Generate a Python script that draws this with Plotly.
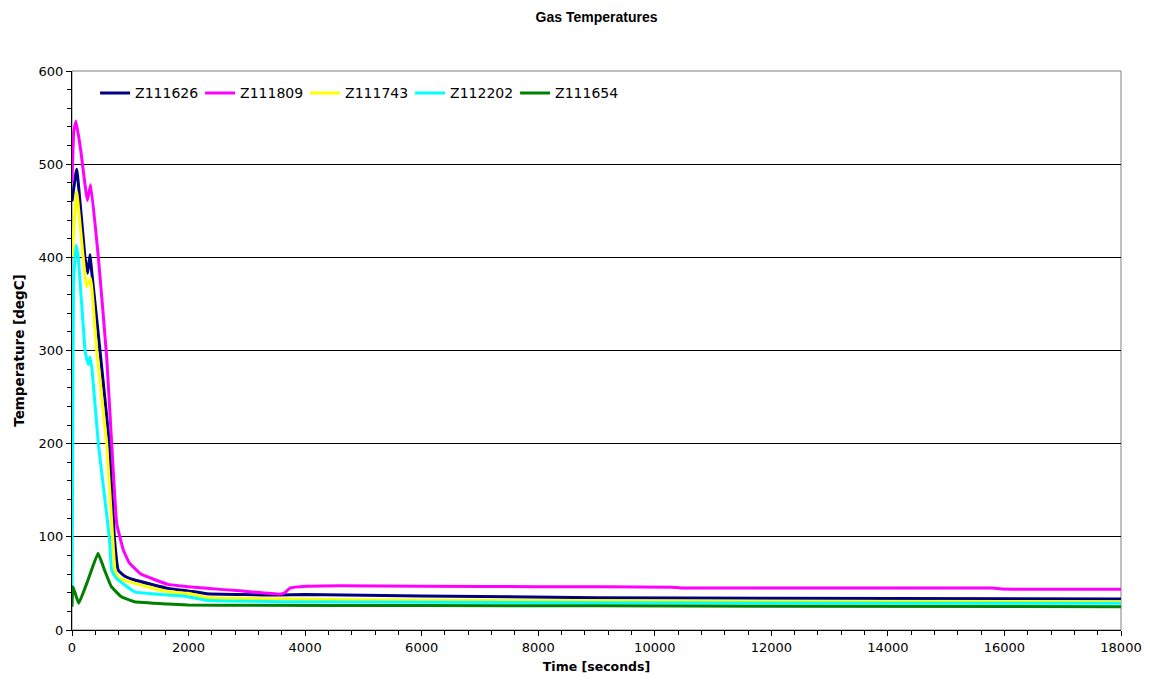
import plotly.graph_objects as go

names = ["Z111626", "Z111809", "Z111743", "Z112202", "Z111654"]
colors = ["#000080", "#FF00FF", "#FFFF00", "#00FFFF", "#008000"]

t_navy = [0, 80, 223, 269, 309, 338, 480, 641, 727, 795, 900, 1075, 1647, 1990, 2311, 3569, 4000, 6000, 9000, 12000, 18000]
v_navy = [460, 494.5, 400, 383, 403, 385, 300, 200, 99, 64, 58, 53.7, 44.7, 42, 39, 37.6, 38, 36.5, 34.7, 34, 33.3]

t_pink = [0, 30, 69, 150, 263, 320, 452, 595, 681, 767, 881, 984, 1184, 1647, 1990, 2311, 2883, 3569, 3650, 3740, 4027, 4600, 6000, 8000, 10300, 10450, 15800, 15950, 18000]
v_pink = [480, 535, 546, 515, 461, 478, 400, 293, 200, 114, 86, 72, 60, 49, 46.5, 44.7, 42, 38.5, 40, 45, 47, 47.5, 47, 46.5, 46, 45, 45, 44, 43.7]

t_yel = [0, 80, 251, 320, 423, 595, 698, 738, 800, 1075, 1647, 1990, 2311, 3569, 6000, 9000, 12000, 18000]
v_yel = [400, 470, 368.5, 377.5, 300, 200, 99, 64, 56, 50, 41, 39.4, 35, 33.3, 32, 31.5, 30.8, 30.4]

t_cyan = [0, 10, 25, 69, 108, 223, 252, 280, 305, 340, 452, 641, 681, 761, 1075, 1647, 1990, 2311, 3569, 9000, 18000]
v_cyan = [40, 150, 372, 413, 400, 300, 291, 285, 293, 282, 200, 99, 64, 55.5, 41, 37.6, 35.8, 32, 30.4, 29.3, 28.6]

t_green = [0, 17, 115, 275, 446, 560, 675, 846, 1075, 1647, 1990, 3000, 6000, 9000, 12000, 18000]
v_green = [25, 46.5, 28.6, 53.7, 82.3, 64, 46.5, 35.8, 30.4, 27.9, 26.8, 26.5, 26.2, 26, 25.5, 25]

series_t = [t_navy, t_pink, t_yel, t_cyan, t_green]
series_v = [v_navy, v_pink, v_yel, v_cyan, v_green]

ARIAL = "Arial, Liberation Sans, sans-serif"
WIDE = "DejaVu Sans, Verdana, sans-serif"

fig = go.Figure()
for n, c, tt, vv in zip(names, colors, series_t, series_v):
    fig.add_trace(go.Scatter(x=tt, y=vv, mode="lines", name=n,
                             line=dict(color=c, width=3, shape="spline", smoothing=0.3)))

fig.update_layout(
    width=1150, height=694,
    margin=dict(l=72, r=29, t=71, b=64, autoexpand=False),
    paper_bgcolor="white", plot_bgcolor="white",
    font=dict(family=ARIAL, size=13, color="black"),
    title=dict(text="<b>Gas Temperatures</b>", x=0.5, xref="paper", y=1 - 17 / 694,
               yref="container", yanchor="middle", font=dict(family=ARIAL, size=14)),
    showlegend=True,
    legend=dict(orientation="h", x=0.022, y=0.96, xanchor="left", yanchor="middle",
                bgcolor="rgba(0,0,0,0)", font=dict(family=WIDE, size=14),
                entrywidth=60, entrywidthmode="pixels", itemwidth=30),
    shapes=[dict(type="rect", xref="paper", yref="paper", x0=0, y0=0, x1=1, y1=1,
                 line=dict(color="#808080", width=1), layer="below")],
)

fig.update_xaxes(
    range=[0, 18000], dtick=2000, tick0=0, tickformat="d", showgrid=False, zeroline=False,
    automargin=False,
    showline=True, linecolor="black", linewidth=1,
    ticks="outside", ticklen=5, tickcolor="black",
    minor=dict(dtick=400, ticks="outside", ticklen=4, tickcolor="black", showgrid=False),
    title=dict(text="<b>Time [seconds]</b>", font=dict(family=WIDE, size=12.5), standoff=8),
    tickfont=dict(family=WIDE, size=13),
)
fig.update_yaxes(
    range=[0, 600], dtick=100, tick0=0, tickformat="d", showgrid=True, gridcolor="black", gridwidth=1,
    automargin=False,
    zeroline=False, showline=True, linecolor="black", linewidth=1,
    ticks="outside", ticklen=5, tickcolor="black",
    minor=dict(dtick=20, ticks="outside", ticklen=4, tickcolor="black", showgrid=False),
    title=dict(text="<b>Temperature [degC]</b>", font=dict(family=WIDE, size=13.5), standoff=10),
    tickfont=dict(family=WIDE, size=13),
)

fig.write_html("out.html")
